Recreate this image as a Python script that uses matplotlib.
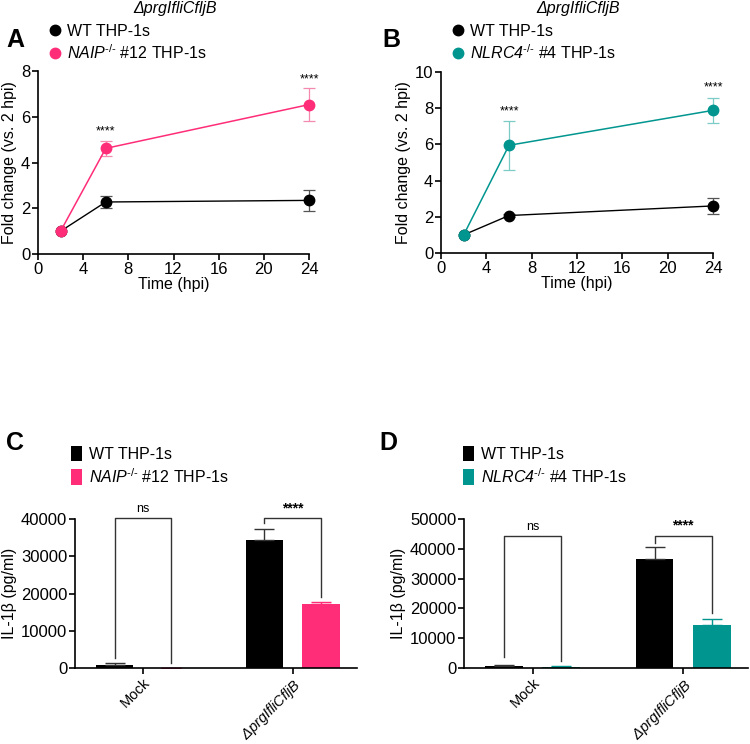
#!/usr/bin/env python3
""" THP-1 fold change and IL-1b panels
"""
import matplotlib
matplotlib.use('Agg')
import matplotlib.pyplot as plt
from matplotlib.lines import Line2D
from matplotlib.patches import Patch

plt.rcParams['font.family'] = ['Liberation Sans', 'DejaVu Sans']
plt.rcParams['mathtext.fontset'] = 'custom'
plt.rcParams['mathtext.rm'] = 'Liberation Sans'
plt.rcParams['mathtext.it'] = 'Liberation Sans:italic'
plt.rcParams['mathtext.sf'] = 'Liberation Sans:italic'

PINK = '#FF2D78'
TEAL = '#00968F'
STRAIN = 'ΔprgIfliCfljB'

# panel A / B time courses
hours = [2, 6, 24]
a_wt = [1.0, 2.28, 2.35]
a_wt_err = [0.0, 0.28, 0.45]
a_ko = [1.0, 4.63, 6.55]
a_ko_err = [0.0, 0.33, 0.73]
b_wt = [1.0, 2.07, 2.6]
b_wt_err = [0.0, 0.08, 0.45]
b_ko = [1.0, 5.95, 7.88]
b_ko_err = [0.0, 1.35, 0.7]

# panel C / D IL-1b
groups = ['Mock', r'$\mathsf{ΔprgIfliCfljB}$']
c_wt = [800, 34400]
c_wt_err = [550, 2900]
c_ko = [0, 17200]
c_ko_err = [0, 500]
d_wt = [650, 36600]
d_wt_err = [250, 4100]
d_ko = [300, 14300]
d_ko_err = [400, 2300]

NAIP_LBL = r'$\mathsf{NAIP}^{\mathsf{\text{-/-}}}$ #12 THP-1s'
NLRC4_LBL = r'$\mathsf{NLRC4}^{\mathsf{\text{-/-}}}$ #4 THP-1s'


def style(ax):
    for s in ['top', 'right']:
        ax.spines[s].set_visible(False)
    for s in ['left', 'bottom']:
        ax.spines[s].set_linewidth(1.2)
    ax.tick_params(width=1.2, length=4, labelsize=12, pad=1.5)


def timecourse(ax, wt, wt_err, ko, ko_err, color, ecolor, ymax, stars_y):
    ax.errorbar(hours, wt, yerr=wt_err, color='black', ecolor='#555555', lw=1,
                elinewidth=0.9, capsize=4, capthick=0.9, marker='o', ms=7.5,
                clip_on=False, zorder=3)
    ax.errorbar(hours, ko, yerr=ko_err, color=color, ecolor=ecolor, lw=1.1,
                elinewidth=0.9, capsize=4, capthick=0.9, marker='o', ms=7.5,
                clip_on=False, zorder=4)
    for h, y in zip(hours[1:], stars_y):
        ax.text(h, y, '****', ha='center', va='bottom', fontsize=9)
    ax.set_xlim(0, 24)
    ax.set_xticks([0, 4, 8, 12, 16, 20, 24])
    ax.set_ylim(0, ymax)
    ax.set_yticks(range(0, ymax + 1, 2))
    ax.set_xlabel('Time (hpi)', fontsize=11.5, labelpad=0)
    ax.set_ylabel('Fold change (vs. 2 hpi)', fontsize=11.5, labelpad=3)
    style(ax)


def barpanel(ax, wt, wt_err, ko, ko_err, color, ymax, ystep, brackets):
    xs = [0, 1]
    off = 0.19
    w = 0.25
    ax.bar([x - off for x in xs], wt, w, color='black', zorder=2)
    ax.errorbar([x - off for x in xs], wt, yerr=[[0, 0], wt_err], fmt='none',
                ecolor='#333333', elinewidth=1, capsize=7, capthick=1)
    ax.bar([x + off for x in xs], ko, w, color=color, zorder=2)
    ax.errorbar([x + off for x in xs], ko, yerr=[[0, 0], ko_err], fmt='none',
                ecolor=color, elinewidth=1, capsize=7, capthick=1)
    for (x, top, left_y, right_y, label, fs) in brackets:
        ax.plot([x - off, x - off, x + off, x + off], [left_y, top, top, right_y],
                color='#333333', lw=1, clip_on=False, zorder=1)
        ax.text(x, top + ymax * 0.02, label, ha='center', va='bottom',
                fontsize=fs, fontweight='bold' if label != 'ns' else 'normal')
    ax.set_xlim(-0.455, 1.43)
    ax.set_xticks(xs)
    ax.set_ylim(0, ymax)
    ax.set_yticks(range(0, ymax + 1, ystep))
    ax.set_ylabel('IL-1β (pg/ml)', fontsize=11.5, labelpad=3)
    style(ax)
    ax.set_xticklabels(groups, rotation=45, ha='right', rotation_mode='anchor',
                       fontsize=10.5)


fig = plt.figure(figsize=(7.5, 7.44), dpi=100)
W, H = 750.0, 744.0


def axes_px(l, r, top, bottom):
    return fig.add_axes([l / W, 1 - bottom / H, (r - l) / W, (bottom - top) / H])


axA = axes_px(38, 309, 71.5, 254)
timecourse(axA, a_wt, a_wt_err, a_ko, a_ko_err, PINK, '#F58AB0', 8, [5.1, 7.4])
axB = axes_px(441, 713, 72, 253)
timecourse(axB, b_wt, b_wt_err, b_ko, b_ko_err, TEAL, '#7CCBC6', 10, [7.5, 8.8])

axC = axes_px(75, 357, 519, 668)
barpanel(axC, c_wt, c_wt_err, c_ko, c_ko_err, PINK, 40000, 10000,
         [(0, 40200, 2700, 1300, 'ns', 9), (1, 40200, 38800, 19000, '****', 10)])
axD = axes_px(464, 748, 519, 668)
barpanel(axD, d_wt, d_wt_err, d_ko, d_ko_err, TEAL, 50000, 10000,
         [(0, 44400, 3700, 2300, 'ns', 9), (1, 44400, 42000, 18400, '****', 10)])

# panel letters and titles
for x, y, s in [(15, 40, 'A'), (391, 40, 'B'), (15, 443, 'C'), (388, 443, 'D')]:
    fig.text(x / W, 1 - y / H, s, fontsize=18, fontweight='bold', va='center', ha='center')
fig.text(175 / W, 1 - 9 / H, STRAIN, fontsize=11.5, style='italic', ha='center', va='center')
fig.text(578 / W, 1 - 9 / H, STRAIN, fontsize=11.5, style='italic', ha='center', va='center')


# legends
def dot(c):
    return Line2D([], [], marker='o', ls='none', color=c, ms=7.5)


def square(c):
    return Patch(facecolor=c, edgecolor='none')


leg_kw = dict(loc='upper left', frameon=False, fontsize=11.5, borderpad=0,
              borderaxespad=0, bbox_transform=fig.transFigure)
axA.legend([dot('black'), dot(PINK)], ['WT THP-1s', NAIP_LBL],
           bbox_to_anchor=(50 / W, 1 - 24 / H), handlelength=0.6,
           handletextpad=0.45, labelspacing=0.25, **leg_kw)
axB.legend([dot('black'), dot(TEAL)], ['WT THP-1s', NLRC4_LBL],
           bbox_to_anchor=(453 / W, 1 - 24 / H), handlelength=0.6,
           handletextpad=0.45, labelspacing=0.25, **leg_kw)
axC.legend([square('black'), square(PINK)], ['WT THP-1s', NAIP_LBL],
           bbox_to_anchor=(71 / W, 1 - 446 / H), handlelength=0.7,
           handleheight=1.1, handletextpad=0.4, labelspacing=0.3, **leg_kw)
axD.legend([square('black'), square(TEAL)], ['WT THP-1s', NLRC4_LBL],
           bbox_to_anchor=(463 / W, 1 - 446 / H), handlelength=0.7,
           handleheight=1.1, handletextpad=0.4, labelspacing=0.3, **leg_kw)

fig.savefig('out.png', dpi=100)
